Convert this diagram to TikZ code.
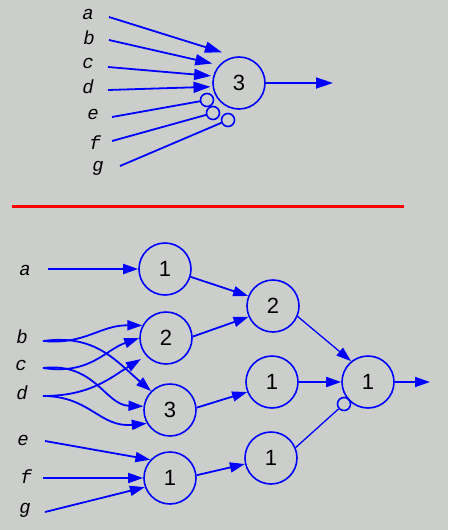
\documentclass[tikz,border=0pt]{standalone}
\usepackage{fontspec}
\setmainfont{Liberation Sans}
\newfontfamily\lblfont{Liberation Mono}
\usepackage{tikz}
\usetikzlibrary{
  arrows.meta,%
  positioning
}
\definecolor{bggray}{RGB}{204,206,204}
\definecolor{netblue}{RGB}{0,0,255}
\tikzset{>={Triangle[length=15pt,width=10pt]}}
\tikzset{
  neuron/.style={circle, draw=netblue, line width=1.6pt, minimum size=52pt,
    inner sep=0pt, font=\fontsize{22}{24}\selectfont},
  inhib/.style={circle, draw=netblue, line width=1.6pt, minimum size=13pt, inner sep=0pt},
  inlabel/.style={font=\lblfont\itshape\fontsize{19}{21}\selectfont, inner sep=0pt},
  wire/.style={netblue, line width=1.8pt},
  thinwire/.style={netblue, line width=1.3pt},
  bigtip/.style={-{Triangle[length=17pt,width=11pt]}}
}

\begin{document}
\begin{tikzpicture}[x=1pt, y=-1pt]
  \fill[bggray] (0,0) rectangle (448,530);
  \useasboundingbox (0,0) rectangle (448,530);

  % single threshold unit
  \node[neuron] (t3) at (239,83) {3};
  \node[inlabel] (ta) at (88,14) {a};
  \node[inlabel] (tb) at (89,38) {b};
  \node[inlabel] (tc) at (88,63) {c};
  \node[inlabel] (td) at (88,87) {d};
  \node[inlabel] (te) at (93,114) {e};
  \node[inlabel] (tf) at (95,143) {f};
  \node[inlabel] (tg) at (98,168) {g};
  \coordinate (sa) at (109,17);
  \coordinate (sb) at (109,40);
  \coordinate (sc) at (108,67);
  \coordinate (sd) at (108,90);
  \coordinate (se) at (112,117);
  \coordinate (sf) at (112,141);
  \coordinate (sg) at (120,166);
  \node[inhib] (ie) at (207,100) {};
  \node[inhib] (if) at (213,113) {};
  \node[inhib] (ig) at (228,120) {};
  \coordinate (tout) at (333,83);
  \draw[wire, bigtip, shorten >=14pt] (sa) -- (t3.98);
  \draw[wire, bigtip, shorten >=7pt] (sb) -- (t3.138);
  \draw[wire, bigtip, shorten >=2pt] (sc) -- (t3.165);
  \draw[wire, bigtip, shorten >=2pt] (sd) -- (t3.188);
  \draw[wire] (se) -- (ie);
  \draw[wire] (sf) -- (if);
  \draw[wire] (sg) -- (ig);
  \draw[wire, bigtip] (t3) -- (tout);

  \draw[red, line width=3pt] (12,206) -- (404,206);

  % network of units
  \node[neuron] (a1) at (165,269) {1};
  \node[neuron] (a2) at (166,338) {2};
  \node[neuron] (a3) at (170,410) {3};
  \node[neuron] (a4) at (170,478) {1};
  \node[neuron] (b1) at (273,306) {2};
  \node[neuron] (b2) at (272,382) {1};
  \node[neuron] (b3) at (271,458) {1};
  \node[neuron] (c1) at (368,382) {1};
  \node[inhib] (ic) at (344,404) {};

  \node[inlabel] (na) at (25,270) {a};
  \node[inlabel] (nb) at (22,337) {b};
  \node[inlabel] (nc) at (21,365) {c};
  \node[inlabel] (nd) at (22,393) {d};
  \node[inlabel] (ne) at (23,440) {e};
  \node[inlabel] (nf) at (26,477) {f};
  \node[inlabel] (ng) at (25,510) {g};
  \coordinate (ia) at (48,269);
  \coordinate (ib) at (43,341);
  \coordinate (ic2) at (43,368);
  \coordinate (id) at (43,396);
  \coordinate (ie2) at (45,441);
  \coordinate (if2) at (43,478);
  \coordinate (ig2) at (45,512);
  \coordinate (nout) at (430,382);

  \draw[wire, ->] (ia) -- (a1);
  \draw[wire, ->] (ib) .. controls (85,345) and (100,325) .. (a2.152);
  \draw[wire, ->] (ib) .. controls (95,334) and (115,360) .. (a3.135);
  \draw[wire, ->] (ic2) .. controls (90,375) and (105,350) .. (a2.180);
  \draw[wire, ->] (ic2) .. controls (95,362) and (105,405) .. (a3.172);
  \draw[wire, ->, shorten >=6pt] (id) .. controls (90,396) and (110,378) .. (a2.222);
  \draw[wire, ->] (id) .. controls (90,396) and (100,428) .. (a3.210);
  \draw[wire, ->] (ie2) -- (a4.137);
  \draw[wire, ->] (if2) -- (a4);
  \draw[wire, ->] (ig2) -- (a4.200);

  \draw[wire, ->] (a1.-17) -- (b1.158);
  \draw[wire, ->] (a2.3) -- (b1.204);
  \draw[wire, ->] (a3.5) -- (b2.202);
  \draw[wire, ->] (a4.6) -- (b3.193);
  \draw[thinwire, ->] (b1.-23) -- (c1.129);
  \draw[wire, ->] (b2) -- (c1);
  \draw[thinwire] (b3.23) -- (ic);
  \draw[wire, ->] (c1) -- (nout);
\end{tikzpicture}
\end{document}
